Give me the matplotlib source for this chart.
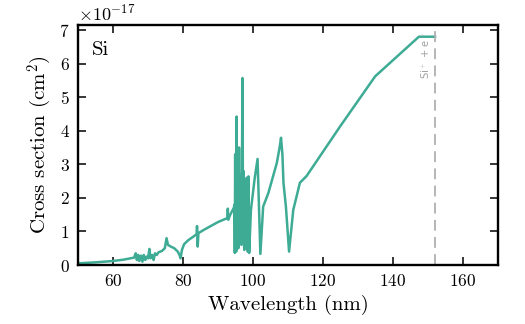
import matplotlib
matplotlib.use("Agg")
import matplotlib.pyplot as plt
import numpy as np

plt.rcParams.update({
    "font.family": "cmr10",
    "mathtext.fontset": "cm",
    "axes.unicode_minus": False,
    "axes.formatter.use_mathtext": True,
    "xtick.direction": "in",
    "ytick.direction": "in",
    "xtick.top": True,
    "ytick.right": True,
})

# Photoionization cross section of Si (units of 1e-17 cm^2)
wavelength_nm = [
    50.0, 55.0, 60.0, 63.0, 65.0, 66.0, 66.5, 66.8, 67.2, 67.5, 68.0, 68.4,
    68.8, 69.2, 69.6, 70.0, 70.4, 70.7, 71.2, 71.6, 72.0, 72.5, 73.0, 74.0,
    74.8, 75.3, 75.7, 76.5, 77.5, 78.5, 79.0, 79.3, 79.7, 80.3, 81.5, 83.0,
    83.9, 84.0, 84.2, 84.4, 86.0, 90.0, 92.7, 92.8, 92.9, 93.5, 94.5,
    94.7, 94.8, 94.9, 95.0, 95.1, 95.2, 95.3, 95.45, 95.6, 95.8, 96.0, 96.15,
    96.3, 96.5, 96.7, 97.0, 97.15, 97.3, 97.5, 97.7, 97.9, 98.2, 98.5, 98.7,
    98.9, 99.4, 100.5, 101.3, 102.1, 102.9, 104.4, 106.8, 107.6, 108.0,
    108.4, 108.7, 109.4, 110.3, 111.5, 113.4, 115.3, 124.9, 134.9, 147.4,
    152.0,
]
cross_section = [
    0.05, 0.08, 0.12, 0.16, 0.20, 0.22, 0.35, 0.15, 0.30, 0.12, 0.28, 0.10,
    0.30, 0.15, 0.25, 0.20, 0.48, 0.20, 0.30, 0.15, 0.35, 0.30, 0.38, 0.42,
    0.50, 0.80, 0.60, 0.55, 0.50, 0.40, 0.30, 0.20, 0.45, 0.62, 0.74, 0.85,
    0.92, 1.16, 0.55, 0.95, 1.05, 1.28, 1.40, 1.68, 1.35, 1.50, 1.70,
    1.80, 0.36, 3.30, 0.50, 2.00, 0.40, 4.42, 0.60, 3.20, 0.50, 3.50, 0.80,
    2.70, 1.00, 0.60, 5.57, 1.20, 2.80, 0.45, 2.20, 1.50, 2.60, 0.40, 2.64,
    0.36, 1.64, 2.60, 3.16, 0.33, 1.74, 2.15, 3.04, 3.50, 3.79,
    3.30, 2.45, 1.74, 0.40, 1.64, 2.45, 2.65, 4.13, 5.62, 6.80,
    6.80,
]
threshold_nm = 152.1
x_ticks = [60, 80, 100, 120, 140, 160]
y_ticks = [0, 1, 2, 3, 4, 5, 6, 7]

fig = plt.figure(figsize=(5.25, 3.24), dpi=100)
ax = fig.add_axes([0.1486, 0.182, 0.8, 0.741])

ax.plot(wavelength_nm, np.array(cross_section) * 1e-17,
        color="#3eab95", lw=1.8, solid_joinstyle="round")
ax.axvline(threshold_nm, color="#b0b0b0", lw=1.3, ls=(0, (6, 3.5)))
ax.text(threshold_nm - 1.0, 6.95e-17, r"Si$^+$ + e$^-$", rotation=90,
        ha="right", va="top", color="#a0a0a0", fontsize=7.2,
        family="DejaVu Sans")
ax.text(0.033, 0.895, "Si", transform=ax.transAxes, fontsize=15,
        ha="left", va="center")

ax.set_xlim(50, 170)
ax.set_ylim(0, 7.15e-17)
ax.set_xticks(x_ticks)
ax.set_yticks(np.array(y_ticks) * 1e-17)
ax.tick_params(which="major", length=5.5, width=1.1, labelsize=12.5, pad=6)
for s in ax.spines.values():
    s.set_linewidth(1.7)
ax.yaxis.get_offset_text().set_fontsize(13)

ax.set_xlabel("Wavelength (nm)", fontsize=15)
ax.set_ylabel(r"Cross section (cm$^2$)", fontsize=15)

fig.savefig("out.png", dpi=100)
